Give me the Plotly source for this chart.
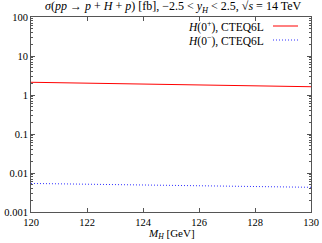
import plotly.graph_objects as go

mass = [120, 122, 124, 126, 128, 130]
sigma_even = [2.12, 2.01, 1.91, 1.81, 1.72, 1.63]
sigma_odd = [0.0054, 0.0052, 0.0049, 0.0047, 0.0045, 0.0043]
y_tickvals = [0.001, 0.01, 0.1, 1, 10, 100]
y_ticktext = ["0.001", "0.01", "0.1", "1", "10", "100"]
x_tickvals = [120, 122, 124, 126, 128, 130]
legend_labels = ["<i>H</i>(0<sup>+</sup>), CTEQ6L", "<i>H</i>(0<sup>−</sup>), CTEQ6L"]

FONT = "Liberation Serif"
W, H = 322, 243
L, R, T, B = 31, 11, 17, 31
plot_w = W - L - R
plot_h = H - T - B

fig = go.Figure()
fig.add_trace(go.Scatter(x=mass, y=sigma_even, mode="lines", hoverinfo="skip",
                         line=dict(color="#ff0000", width=1), showlegend=False))
fig.add_trace(go.Scatter(x=mass, y=sigma_odd, mode="lines", hoverinfo="skip",
                         line=dict(color="#3030ff", width=1, dash="1px,2px"), showlegend=False))

axis_common = dict(showgrid=False, zeroline=False, showline=True, linecolor="#555555",
                   linewidth=1, mirror="ticks", ticks="inside", tickcolor="#555555",
                   ticklen=4, ticklabeloverflow="allow", automargin=False,
                   tickfont=dict(family=FONT, size=10.5, color="black"))

fig.update_xaxes(range=[120, 130], tickvals=x_tickvals, **axis_common)
fig.update_yaxes(type="log", range=[-3, 2], tickvals=y_tickvals, ticktext=y_ticktext,
                 minor=dict(ticks="inside", ticklen=2, tickcolor="#555555",
                            tickvals=[v * m for v in [0.001, 0.01, 0.1, 1, 10] for m in range(2, 10)]),
                 **axis_common)

# x axis title
fig.add_annotation(x=0.5, y=-(234 - (H - B)) / plot_h, xref="paper", yref="paper",
                   text="<i>M</i><sub><i>H</i></sub> [GeV]", showarrow=False,
                   xanchor="center", yanchor="middle",
                   font=dict(family=FONT, size=11, color="black"))

rows_y = [26, 40]
styles = [dict(color="#ff0000", width=1), dict(color="#3030ff", width=1, dash="1px,2px")]
for lab, yy, st in zip(legend_labels, rows_y, styles):
    yp = 1 - (yy - T) / plot_h
    fig.add_annotation(x=(266 - L) / plot_w, y=yp, xref="paper", yref="paper",
                       text=lab, showarrow=False, xanchor="right", yanchor="middle",
                       font=dict(family=FONT, size=11.5, color="black"))
    fig.add_shape(type="line", xref="paper", yref="paper",
                  x0=(273 - L) / plot_w, x1=(298 - L) / plot_w, y0=yp, y1=yp, line=st)

fig.add_annotation(x=(173 - L) / plot_w, y=1 + (17 - 7) / plot_h, xref="paper", yref="paper",
                   text="<i>σ</i>(<i>pp</i> → <i>p</i> + <i>H</i> + <i>p</i>) [fb], −2.5 &lt; <i>y</i><sub><i>H</i></sub> &lt; 2.5, √<i>s</i> = 14 TeV",
                   showarrow=False, xanchor="center", yanchor="middle",
                   font=dict(family=FONT, size=12, color="black"))

fig.update_layout(width=W, height=H, margin=dict(l=L, r=R, t=T, b=B, autoexpand=False),
                  plot_bgcolor="white", paper_bgcolor="white", showlegend=False,
                  hovermode=False)

fig.write_html("out.html", config={"displayModeBar": False},
               post_script="document.body.style.margin='0';")
